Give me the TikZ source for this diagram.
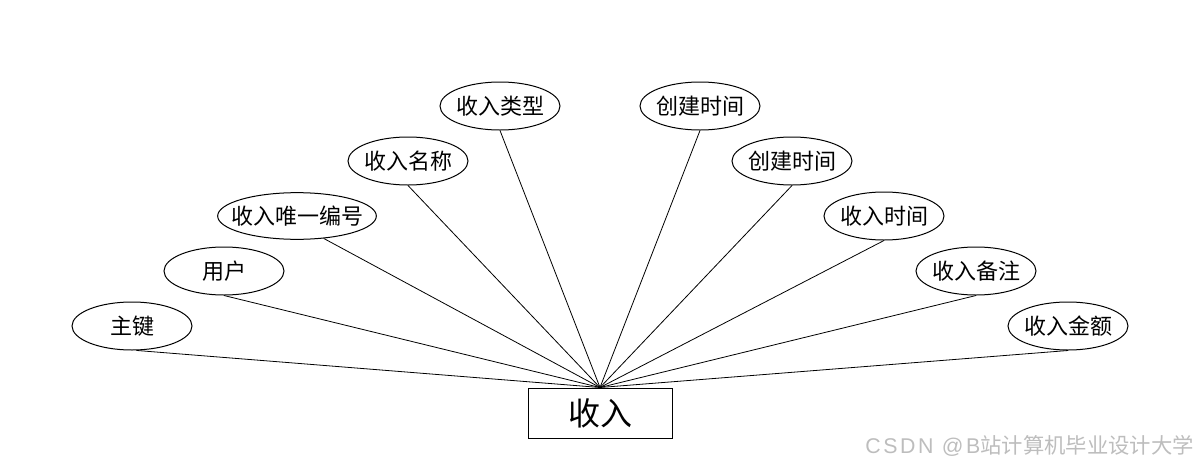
\documentclass[tikz,border=0pt]{standalone}
\usepackage{fontspec}
\setmainfont{Noto Sans CJK SC}
\newfontfamily\wmlatin[LetterSpace=12]{Liberation Sans}
\usetikzlibrary{shapes.geometric}
\begin{document}
\begin{tikzpicture}[x=0.75pt,y=-0.75pt,
  attr/.style={draw=black, line width=0.75pt, ellipse, inner sep=0pt,
    minimum width=90pt, minimum height=36pt, font=\fontsize{16.5}{18}\selectfont},
  entity/.style={draw=black, line width=0.75pt, rectangle, inner sep=0pt,
    minimum width=108pt, minimum height=37.5pt, font=\fontsize{24}{26}\selectfont},
  link/.style={draw=black, line width=0.6pt},
  watermark/.style={text=black!26, font=\fontsize{16}{18}\selectfont, anchor=east, inner sep=0pt}
]
\useasboundingbox (0,0) rectangle (1200,468);
\node[entity] (r) at (600,413) {收入};
\node[attr] (a1) at (132,326) {\makebox[0pt]{主键}};
\node[attr] (a2) at (224,271) {\makebox[0pt]{用户}};
\node[attr, minimum width=119pt, minimum height=35pt] (a3) at (297,216) {\makebox[0pt]{收入唯一编号}};
\node[attr] (a4) at (408,161) {\makebox[0pt]{收入名称}};
\node[attr] (a5) at (500,106) {\makebox[0pt]{收入类型}};
\node[attr] (a6) at (700,106) {\makebox[0pt]{创建时间}};
\node[attr] (a7) at (792,161) {\makebox[0pt]{创建时间}};
\node[attr] (a8) at (884,216) {\makebox[0pt]{收入时间}};
\node[attr] (a9) at (976,271) {\makebox[0pt]{收入备注}};
\node[attr] (a10) at (1068,326) {\makebox[0pt]{收入金额}};
\draw[link] (a1.-80) -- (r.north);
\draw[link] (a2.south) -- (r.north);
\draw[link] (a3.-40) -- (r.north);
\draw[link] (a4.south) -- (r.north);
\draw[link] (a5.south) -- (r.north);
\draw[link] (a6.south) -- (r.north);
\draw[link] (a7.south) -- (r.north);
\draw[link] (a8.south) -- (r.north);
\draw[link] (a9.south) -- (r.north);
\draw[link] (a10.south) -- (r.north);
\node[watermark] (wm) at (1194,446) {{\wmlatin CSDN @B}站计算机毕业设计大学};
\end{tikzpicture}
\end{document}
